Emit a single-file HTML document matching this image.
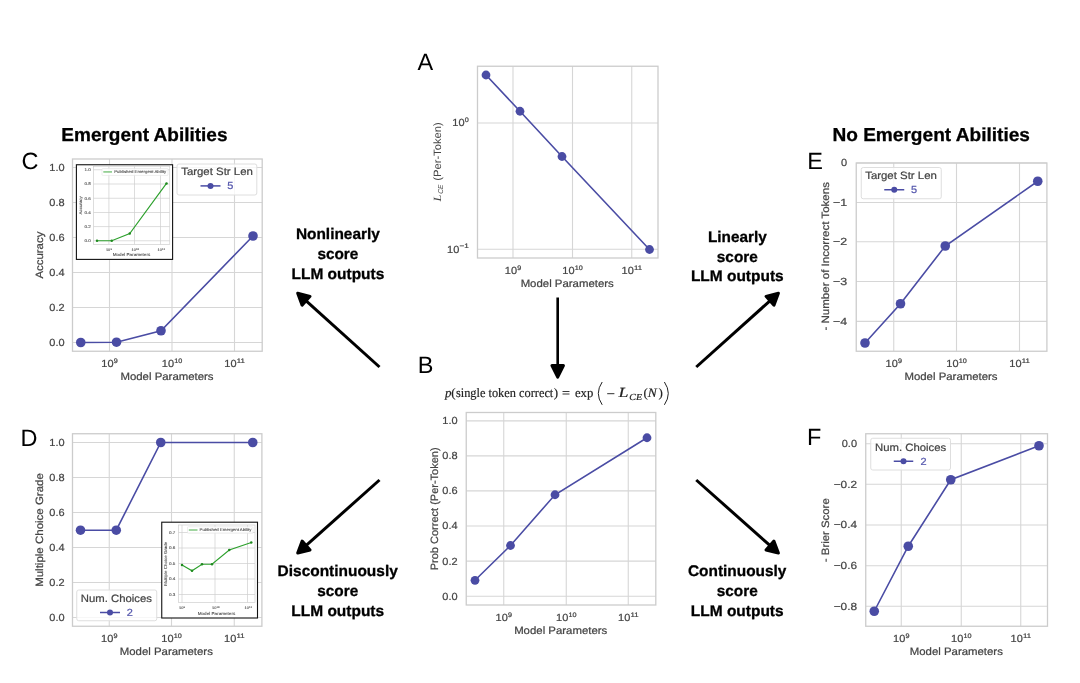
<!DOCTYPE html>
<html lang="en"><head><meta charset="utf-8"><title>Figure: emergent abilities vs metric choice</title>
<style>
html,body{margin:0;padding:0;background:#fff;}
body{width:1080px;height:683px;overflow:hidden;font-family:"Liberation Sans",sans-serif;}
svg{display:block;filter:blur(0.4px);}
</style></head><body>
<svg width="1080" height="683" viewBox="0 0 1080 683" text-rendering="geometricPrecision" font-family="'Liberation Sans', sans-serif" fill="#444444">
<rect width="1080" height="683" fill="#fff"/>
<text x="61.3" y="140.8" font-size="18.75" textLength="166.2" lengthAdjust="spacingAndGlyphs" fill="#000" font-weight="bold" stroke="#000" stroke-width="0.3">Emergent Abilities</text>
<text x="832.4" y="140.8" font-size="18.75" textLength="197.6" lengthAdjust="spacingAndGlyphs" fill="#000" font-weight="bold" stroke="#000" stroke-width="0.3">No Emergent Abilities</text>
<text x="417.5" y="70" font-size="23.5" fill="#000">A</text>
<text x="417.7" y="373.2" font-size="23.5" fill="#000">B</text>
<text x="21.5" y="169.2" font-size="23.5" fill="#000">C</text>
<text x="20.5" y="446.2" font-size="23.5" fill="#000">D</text>
<text x="807.2" y="169.2" font-size="23.5" fill="#000">E</text>
<text x="807" y="444.6" font-size="23.5" fill="#000">F</text>
<g>
<line x1="109.5" y1="159" x2="109.5" y2="351.25" stroke="#d6d6d6" stroke-width="1.1"/>
<line x1="172" y1="159" x2="172" y2="351.25" stroke="#d6d6d6" stroke-width="1.1"/>
<line x1="234.5" y1="159" x2="234.5" y2="351.25" stroke="#d6d6d6" stroke-width="1.1"/>
<line x1="72.5" y1="167.5" x2="262.2" y2="167.5" stroke="#d6d6d6" stroke-width="1.1"/>
<line x1="72.5" y1="202.5" x2="262.2" y2="202.5" stroke="#d6d6d6" stroke-width="1.1"/>
<line x1="72.5" y1="237.5" x2="262.2" y2="237.5" stroke="#d6d6d6" stroke-width="1.1"/>
<line x1="72.5" y1="272.5" x2="262.2" y2="272.5" stroke="#d6d6d6" stroke-width="1.1"/>
<line x1="72.5" y1="307.5" x2="262.2" y2="307.5" stroke="#d6d6d6" stroke-width="1.1"/>
<line x1="72.5" y1="342.5" x2="262.2" y2="342.5" stroke="#d6d6d6" stroke-width="1.1"/>
<polyline fill="none" stroke="#4a4ca4" stroke-width="1.6" points="80.75,342.5 116.5,342.2 161,330.75 253,236"/>
<circle cx="80.75" cy="342.5" r="4.8" fill="#4a4ca4"/>
<circle cx="116.5" cy="342.2" r="4.8" fill="#4a4ca4"/>
<circle cx="161" cy="330.75" r="4.8" fill="#4a4ca4"/>
<circle cx="253" cy="236" r="4.8" fill="#4a4ca4"/>
<rect x="72.5" y="159" width="189.7" height="192.25" fill="none" stroke="#cccccc" stroke-width="1.3"/>
<text x="101.38" y="367.4" font-size="10.37" textLength="12.22" lengthAdjust="spacingAndGlyphs" stroke="#444444" stroke-width="0.22">10</text>
<text x="113.79" y="363.08" font-size="6.53" textLength="4.03" lengthAdjust="spacingAndGlyphs" stroke="#444444" stroke-width="0.22">9</text>
<text x="161.86" y="367.4" font-size="10.37" textLength="12.22" lengthAdjust="spacingAndGlyphs" stroke="#444444" stroke-width="0.22">10</text>
<text x="174.28" y="363.08" font-size="6.53" textLength="8.06" lengthAdjust="spacingAndGlyphs" stroke="#444444" stroke-width="0.22">10</text>
<text x="224.36" y="367.4" font-size="10.37" textLength="12.22" lengthAdjust="spacingAndGlyphs" stroke="#444444" stroke-width="0.22">10</text>
<text x="236.78" y="363.08" font-size="6.53" textLength="8.06" lengthAdjust="spacingAndGlyphs" stroke="#444444" stroke-width="0.22">11</text>
<text x="167" y="380.4" font-size="10.61" text-anchor="middle" textLength="93.15" lengthAdjust="spacingAndGlyphs" stroke="#444444" stroke-width="0.22">Model Parameters</text>
<text x="64.6" y="170.9" font-size="10.37" text-anchor="end" textLength="15.27" lengthAdjust="spacingAndGlyphs" stroke="#444444" stroke-width="0.22">1.0</text>
<text x="64.6" y="205.9" font-size="10.37" text-anchor="end" textLength="15.27" lengthAdjust="spacingAndGlyphs" stroke="#444444" stroke-width="0.22">0.8</text>
<text x="64.6" y="240.9" font-size="10.37" text-anchor="end" textLength="15.27" lengthAdjust="spacingAndGlyphs" stroke="#444444" stroke-width="0.22">0.6</text>
<text x="64.6" y="275.9" font-size="10.37" text-anchor="end" textLength="15.27" lengthAdjust="spacingAndGlyphs" stroke="#444444" stroke-width="0.22">0.4</text>
<text x="64.6" y="310.9" font-size="10.37" text-anchor="end" textLength="15.27" lengthAdjust="spacingAndGlyphs" stroke="#444444" stroke-width="0.22">0.2</text>
<text x="64.6" y="345.9" font-size="10.37" text-anchor="end" textLength="15.27" lengthAdjust="spacingAndGlyphs" stroke="#444444" stroke-width="0.22">0.0</text>
<text x="42.8" y="255.1" font-size="10.61" text-anchor="middle" textLength="47.02" lengthAdjust="spacingAndGlyphs" transform="rotate(-90 42.8 255.1)" stroke="#444444" stroke-width="0.22">Accuracy</text>
</g>
<rect x="177" y="164" width="79.8" height="31" rx="2" fill="#ffffff" fill-opacity="0.8" stroke="#dedede" stroke-width="1"/>
<text x="217" y="175" font-size="10.61" text-anchor="middle" textLength="71.65" lengthAdjust="spacingAndGlyphs" stroke="#444444" stroke-width="0.22">Target Str Len</text>
<line x1="200.5" y1="185.9" x2="220.5" y2="185.9" stroke="#4a4ca4" stroke-width="1.5"/>
<circle cx="210.5" cy="185.9" r="3" fill="#4a4ca4"/>
<text x="227.3" y="189.3" font-size="10.37" textLength="6.11" lengthAdjust="spacingAndGlyphs" fill="#5557ad" stroke="#5557ad" stroke-width="0.22">5</text>
<g>
<rect x="76.4" y="164.75" width="96.2" height="94.65" fill="#fff" stroke="#111" stroke-width="1.1"/>
<line x1="108.9" y1="166.25" x2="108.9" y2="244.4" stroke="#cfcfcf" stroke-width="0.7"/>
<line x1="134.5" y1="166.25" x2="134.5" y2="244.4" stroke="#cfcfcf" stroke-width="0.7"/>
<line x1="160.5" y1="166.25" x2="160.5" y2="244.4" stroke="#cfcfcf" stroke-width="0.7"/>
<line x1="93.5" y1="169.75" x2="169.75" y2="169.75" stroke="#cfcfcf" stroke-width="0.7"/>
<line x1="93.5" y1="184" x2="169.75" y2="184" stroke="#cfcfcf" stroke-width="0.7"/>
<line x1="93.5" y1="198.25" x2="169.75" y2="198.25" stroke="#cfcfcf" stroke-width="0.7"/>
<line x1="93.5" y1="212.5" x2="169.75" y2="212.5" stroke="#cfcfcf" stroke-width="0.7"/>
<line x1="93.5" y1="226.6" x2="169.75" y2="226.6" stroke="#cfcfcf" stroke-width="0.7"/>
<line x1="93.5" y1="240.75" x2="169.75" y2="240.75" stroke="#cfcfcf" stroke-width="0.7"/>
<rect x="93.5" y="166.25" width="76.25" height="78.15" fill="none" stroke="#cfcfcf" stroke-width="0.7"/>
<polyline fill="none" stroke="#2ca02c" stroke-width="1.15" points="97,240.75 111.75,240.75 129.75,233.5 166.5,183.4"/>
<circle cx="97" cy="240.75" r="1.25" fill="#1f8a1f"/>
<circle cx="111.75" cy="240.75" r="1.25" fill="#1f8a1f"/>
<circle cx="129.75" cy="233.5" r="1.25" fill="#1f8a1f"/>
<circle cx="166.5" cy="183.4" r="1.25" fill="#1f8a1f"/>
<rect x="102" y="168.5" width="66" height="6.9" rx="0.8" fill="#fff" fill-opacity="0.85" stroke="#dcdcdc" stroke-width="0.5"/>
<line x1="103.3" y1="171.95" x2="112" y2="171.95" stroke="#2ca02c" stroke-width="0.9"/>
<text x="114.2" y="173.3" font-size="3.97" textLength="51.89" lengthAdjust="spacingAndGlyphs" fill="#444" stroke="#444" stroke-width="0.08">Published Emergent Ability</text>
<text x="90.8" y="171.1" font-size="4.12" text-anchor="end" textLength="6.36" lengthAdjust="spacingAndGlyphs" fill="#444" stroke="#444" stroke-width="0.08">1.0</text>
<text x="90.8" y="185.35" font-size="4.12" text-anchor="end" textLength="6.36" lengthAdjust="spacingAndGlyphs" fill="#444" stroke="#444" stroke-width="0.08">0.8</text>
<text x="90.8" y="199.6" font-size="4.12" text-anchor="end" textLength="6.36" lengthAdjust="spacingAndGlyphs" fill="#444" stroke="#444" stroke-width="0.08">0.6</text>
<text x="90.8" y="213.85" font-size="4.12" text-anchor="end" textLength="6.36" lengthAdjust="spacingAndGlyphs" fill="#444" stroke="#444" stroke-width="0.08">0.4</text>
<text x="90.8" y="227.95" font-size="4.12" text-anchor="end" textLength="6.36" lengthAdjust="spacingAndGlyphs" fill="#444" stroke="#444" stroke-width="0.08">0.2</text>
<text x="90.8" y="242.1" font-size="4.12" text-anchor="end" textLength="6.36" lengthAdjust="spacingAndGlyphs" fill="#444" stroke="#444" stroke-width="0.08">0.0</text>
<text x="105.94" y="251" font-size="3.5" textLength="4.33" lengthAdjust="spacingAndGlyphs" fill="#444" stroke="#444" stroke-width="0.08">10</text>
<text x="110.46" y="249.6" font-size="2.47" textLength="1.53" lengthAdjust="spacingAndGlyphs" fill="#444" stroke="#444" stroke-width="0.08">9</text>
<text x="131.54" y="251" font-size="3.5" textLength="4.33" lengthAdjust="spacingAndGlyphs" fill="#444" stroke="#444" stroke-width="0.08">10</text>
<text x="136.06" y="249.6" font-size="2.47" textLength="3.05" lengthAdjust="spacingAndGlyphs" fill="#444" stroke="#444" stroke-width="0.08">10</text>
<text x="157.54" y="251" font-size="3.5" textLength="4.33" lengthAdjust="spacingAndGlyphs" fill="#444" stroke="#444" stroke-width="0.08">10</text>
<text x="162.06" y="249.6" font-size="2.47" textLength="3.05" lengthAdjust="spacingAndGlyphs" fill="#444" stroke="#444" stroke-width="0.08">11</text>
<text x="131.5" y="256.2" font-size="4.27" text-anchor="middle" textLength="37.53" lengthAdjust="spacingAndGlyphs" fill="#444" stroke="#444" stroke-width="0.08">Model Parameters</text>
<text x="81.6" y="205.32" font-size="4.12" text-anchor="middle" textLength="18.26" lengthAdjust="spacingAndGlyphs" fill="#444" transform="rotate(-90 81.6 205.32)" stroke="#444" stroke-width="0.08">Accuracy</text>
</g>
<g>
<line x1="109.25" y1="433.75" x2="109.25" y2="626.25" stroke="#d6d6d6" stroke-width="1.1"/>
<line x1="171.5" y1="433.75" x2="171.5" y2="626.25" stroke="#d6d6d6" stroke-width="1.1"/>
<line x1="234.25" y1="433.75" x2="234.25" y2="626.25" stroke="#d6d6d6" stroke-width="1.1"/>
<line x1="72.5" y1="442.5" x2="261.9" y2="442.5" stroke="#d6d6d6" stroke-width="1.1"/>
<line x1="72.5" y1="477.5" x2="261.9" y2="477.5" stroke="#d6d6d6" stroke-width="1.1"/>
<line x1="72.5" y1="512.5" x2="261.9" y2="512.5" stroke="#d6d6d6" stroke-width="1.1"/>
<line x1="72.5" y1="547.5" x2="261.9" y2="547.5" stroke="#d6d6d6" stroke-width="1.1"/>
<line x1="72.5" y1="582.5" x2="261.9" y2="582.5" stroke="#d6d6d6" stroke-width="1.1"/>
<line x1="72.5" y1="617.5" x2="261.9" y2="617.5" stroke="#d6d6d6" stroke-width="1.1"/>
<polyline fill="none" stroke="#4a4ca4" stroke-width="1.6" points="80.5,530.2 116.25,530.2 160.75,442.5 252.75,442.5"/>
<circle cx="80.5" cy="530.2" r="4.8" fill="#4a4ca4"/>
<circle cx="116.25" cy="530.2" r="4.8" fill="#4a4ca4"/>
<circle cx="160.75" cy="442.5" r="4.8" fill="#4a4ca4"/>
<circle cx="252.75" cy="442.5" r="4.8" fill="#4a4ca4"/>
<rect x="72.5" y="433.75" width="189.4" height="192.5" fill="none" stroke="#cccccc" stroke-width="1.3"/>
<text x="101.13" y="642.4" font-size="10.37" textLength="12.22" lengthAdjust="spacingAndGlyphs" stroke="#444444" stroke-width="0.22">10</text>
<text x="113.54" y="638.08" font-size="6.53" textLength="4.03" lengthAdjust="spacingAndGlyphs" stroke="#444444" stroke-width="0.22">9</text>
<text x="161.36" y="642.4" font-size="10.37" textLength="12.22" lengthAdjust="spacingAndGlyphs" stroke="#444444" stroke-width="0.22">10</text>
<text x="173.78" y="638.08" font-size="6.53" textLength="8.06" lengthAdjust="spacingAndGlyphs" stroke="#444444" stroke-width="0.22">10</text>
<text x="224.11" y="642.4" font-size="10.37" textLength="12.22" lengthAdjust="spacingAndGlyphs" stroke="#444444" stroke-width="0.22">10</text>
<text x="236.53" y="638.08" font-size="6.53" textLength="8.06" lengthAdjust="spacingAndGlyphs" stroke="#444444" stroke-width="0.22">11</text>
<text x="166.3" y="655.4" font-size="10.61" text-anchor="middle" textLength="93.15" lengthAdjust="spacingAndGlyphs" stroke="#444444" stroke-width="0.22">Model Parameters</text>
<text x="64.6" y="445.9" font-size="10.37" text-anchor="end" textLength="15.27" lengthAdjust="spacingAndGlyphs" stroke="#444444" stroke-width="0.22">1.0</text>
<text x="64.6" y="480.9" font-size="10.37" text-anchor="end" textLength="15.27" lengthAdjust="spacingAndGlyphs" stroke="#444444" stroke-width="0.22">0.8</text>
<text x="64.6" y="515.9" font-size="10.37" text-anchor="end" textLength="15.27" lengthAdjust="spacingAndGlyphs" stroke="#444444" stroke-width="0.22">0.6</text>
<text x="64.6" y="550.9" font-size="10.37" text-anchor="end" textLength="15.27" lengthAdjust="spacingAndGlyphs" stroke="#444444" stroke-width="0.22">0.4</text>
<text x="64.6" y="585.9" font-size="10.37" text-anchor="end" textLength="15.27" lengthAdjust="spacingAndGlyphs" stroke="#444444" stroke-width="0.22">0.2</text>
<text x="64.6" y="620.9" font-size="10.37" text-anchor="end" textLength="15.27" lengthAdjust="spacingAndGlyphs" stroke="#444444" stroke-width="0.22">0.0</text>
<text x="42.8" y="530" font-size="10.61" text-anchor="middle" textLength="113.75" lengthAdjust="spacingAndGlyphs" transform="rotate(-90 42.8 530)" stroke="#444444" stroke-width="0.22">Multiple Choice Grade</text>
</g>
<rect x="76.75" y="590" width="80" height="30.75" rx="2" fill="#ffffff" fill-opacity="0.8" stroke="#dedede" stroke-width="1"/>
<text x="116.4" y="601.5" font-size="10.61" text-anchor="middle" textLength="71.06" lengthAdjust="spacingAndGlyphs" stroke="#444444" stroke-width="0.22">Num. Choices</text>
<line x1="100" y1="612.5" x2="120" y2="612.5" stroke="#4a4ca4" stroke-width="1.5"/>
<circle cx="110" cy="612.5" r="3" fill="#4a4ca4"/>
<text x="126.8" y="615.9" font-size="10.37" textLength="6.11" lengthAdjust="spacingAndGlyphs" fill="#5557ad" stroke="#5557ad" stroke-width="0.22">2</text>
<g>
<rect x="161.75" y="522.2" width="95.75" height="95.8" fill="#fff" stroke="#111" stroke-width="1.1"/>
<line x1="182" y1="525" x2="182" y2="602.5" stroke="#cfcfcf" stroke-width="0.7"/>
<line x1="215" y1="525" x2="215" y2="602.5" stroke="#cfcfcf" stroke-width="0.7"/>
<line x1="247.5" y1="525" x2="247.5" y2="602.5" stroke="#cfcfcf" stroke-width="0.7"/>
<line x1="178.5" y1="532.5" x2="255" y2="532.5" stroke="#cfcfcf" stroke-width="0.7"/>
<line x1="178.5" y1="548" x2="255" y2="548" stroke="#cfcfcf" stroke-width="0.7"/>
<line x1="178.5" y1="563.5" x2="255" y2="563.5" stroke="#cfcfcf" stroke-width="0.7"/>
<line x1="178.5" y1="579" x2="255" y2="579" stroke="#cfcfcf" stroke-width="0.7"/>
<line x1="178.5" y1="594.5" x2="255" y2="594.5" stroke="#cfcfcf" stroke-width="0.7"/>
<rect x="178.5" y="525" width="76.5" height="77.5" fill="none" stroke="#cfcfcf" stroke-width="0.7"/>
<polyline fill="none" stroke="#2ca02c" stroke-width="1.15" points="182,565 192,570.75 202,564.25 212,564.25 229.25,550 251.25,542.5"/>
<circle cx="182" cy="565" r="1.25" fill="#1f8a1f"/>
<circle cx="192" cy="570.75" r="1.25" fill="#1f8a1f"/>
<circle cx="202" cy="564.25" r="1.25" fill="#1f8a1f"/>
<circle cx="212" cy="564.25" r="1.25" fill="#1f8a1f"/>
<circle cx="229.25" cy="550" r="1.25" fill="#1f8a1f"/>
<circle cx="251.25" cy="542.5" r="1.25" fill="#1f8a1f"/>
<rect x="187.5" y="526.75" width="65.5" height="6.5" rx="0.8" fill="#fff" fill-opacity="0.85" stroke="#dcdcdc" stroke-width="0.5"/>
<line x1="188.8" y1="530" x2="197.5" y2="530" stroke="#2ca02c" stroke-width="0.9"/>
<text x="199.6" y="531.35" font-size="3.97" textLength="51.89" lengthAdjust="spacingAndGlyphs" fill="#444" stroke="#444" stroke-width="0.08">Published Emergent Ability</text>
<text x="175.3" y="533.85" font-size="4.12" text-anchor="end" textLength="6.36" lengthAdjust="spacingAndGlyphs" fill="#444" stroke="#444" stroke-width="0.08">0.7</text>
<text x="175.3" y="549.35" font-size="4.12" text-anchor="end" textLength="6.36" lengthAdjust="spacingAndGlyphs" fill="#444" stroke="#444" stroke-width="0.08">0.6</text>
<text x="175.3" y="564.85" font-size="4.12" text-anchor="end" textLength="6.36" lengthAdjust="spacingAndGlyphs" fill="#444" stroke="#444" stroke-width="0.08">0.5</text>
<text x="175.3" y="580.35" font-size="4.12" text-anchor="end" textLength="6.36" lengthAdjust="spacingAndGlyphs" fill="#444" stroke="#444" stroke-width="0.08">0.4</text>
<text x="175.3" y="595.85" font-size="4.12" text-anchor="end" textLength="6.36" lengthAdjust="spacingAndGlyphs" fill="#444" stroke="#444" stroke-width="0.08">0.3</text>
<text x="179.04" y="609" font-size="3.5" textLength="4.33" lengthAdjust="spacingAndGlyphs" fill="#444" stroke="#444" stroke-width="0.08">10</text>
<text x="183.56" y="607.6" font-size="2.47" textLength="1.53" lengthAdjust="spacingAndGlyphs" fill="#444" stroke="#444" stroke-width="0.08">9</text>
<text x="212.04" y="609" font-size="3.5" textLength="4.33" lengthAdjust="spacingAndGlyphs" fill="#444" stroke="#444" stroke-width="0.08">10</text>
<text x="216.56" y="607.6" font-size="2.47" textLength="3.05" lengthAdjust="spacingAndGlyphs" fill="#444" stroke="#444" stroke-width="0.08">10</text>
<text x="244.54" y="609" font-size="3.5" textLength="4.33" lengthAdjust="spacingAndGlyphs" fill="#444" stroke="#444" stroke-width="0.08">10</text>
<text x="249.06" y="607.6" font-size="2.47" textLength="3.05" lengthAdjust="spacingAndGlyphs" fill="#444" stroke="#444" stroke-width="0.08">11</text>
<text x="216.5" y="615" font-size="4.27" text-anchor="middle" textLength="37.53" lengthAdjust="spacingAndGlyphs" fill="#444" stroke="#444" stroke-width="0.08">Model Parameters</text>
<text x="166.9" y="563.75" font-size="4.12" text-anchor="middle" textLength="44.17" lengthAdjust="spacingAndGlyphs" fill="#444" transform="rotate(-90 166.9 563.75)" stroke="#444" stroke-width="0.08">Multiple Choice Grade</text>
</g>
<g>
<line x1="513" y1="66.25" x2="513" y2="258" stroke="#d6d6d6" stroke-width="1.1"/>
<line x1="572.5" y1="66.25" x2="572.5" y2="258" stroke="#d6d6d6" stroke-width="1.1"/>
<line x1="631.75" y1="66.25" x2="631.75" y2="258" stroke="#d6d6d6" stroke-width="1.1"/>
<line x1="477.5" y1="123" x2="658" y2="123" stroke="#d6d6d6" stroke-width="1.1"/>
<line x1="477.5" y1="249.25" x2="658" y2="249.25" stroke="#d6d6d6" stroke-width="1.1"/>
<polyline fill="none" stroke="#4a4ca4" stroke-width="1.6" points="486,75 520,111.25 562,156.5 649.5,249.5"/>
<circle cx="486" cy="75" r="4.4" fill="#4a4ca4"/>
<circle cx="520" cy="111.25" r="4.4" fill="#4a4ca4"/>
<circle cx="562" cy="156.5" r="4.4" fill="#4a4ca4"/>
<circle cx="649.5" cy="249.5" r="4.4" fill="#4a4ca4"/>
<rect x="477.5" y="66.25" width="180.5" height="191.75" fill="none" stroke="#cccccc" stroke-width="1.3"/>
<text x="504.88" y="274.2" font-size="10.37" textLength="12.22" lengthAdjust="spacingAndGlyphs" stroke="#444444" stroke-width="0.22">10</text>
<text x="517.29" y="269.88" font-size="6.53" textLength="4.03" lengthAdjust="spacingAndGlyphs" stroke="#444444" stroke-width="0.22">9</text>
<text x="562.36" y="274.2" font-size="10.37" textLength="12.22" lengthAdjust="spacingAndGlyphs" stroke="#444444" stroke-width="0.22">10</text>
<text x="574.78" y="269.88" font-size="6.53" textLength="8.06" lengthAdjust="spacingAndGlyphs" stroke="#444444" stroke-width="0.22">10</text>
<text x="621.61" y="274.2" font-size="10.37" textLength="12.22" lengthAdjust="spacingAndGlyphs" stroke="#444444" stroke-width="0.22">10</text>
<text x="634.03" y="269.88" font-size="6.53" textLength="8.06" lengthAdjust="spacingAndGlyphs" stroke="#444444" stroke-width="0.22">11</text>
<text x="567.2" y="287" font-size="10.61" text-anchor="middle" textLength="93.15" lengthAdjust="spacingAndGlyphs" stroke="#444444" stroke-width="0.22">Model Parameters</text>
<text x="452.35" y="126.4" font-size="10.37" textLength="12.22" lengthAdjust="spacingAndGlyphs" stroke="#444444" stroke-width="0.22">10</text>
<text x="464.77" y="122.08" font-size="6.53" textLength="4.03" lengthAdjust="spacingAndGlyphs" stroke="#444444" stroke-width="0.22">0</text>
<text x="447.04" y="252.65" font-size="10.37" textLength="12.22" lengthAdjust="spacingAndGlyphs" stroke="#444444" stroke-width="0.22">10</text>
<text x="459.46" y="248.33" font-size="6.53" textLength="9.34" lengthAdjust="spacingAndGlyphs" stroke="#444444" stroke-width="0.22">−1</text>
</g>
<g transform="rotate(-90 440.6 162.1)">
<text x="401.2" y="162.3" font-size="11" textLength="6.9" lengthAdjust="spacingAndGlyphs" font-family="'Liberation Serif', serif" font-style="italic">L</text>
<text x="409" y="164.3" font-size="7.2" textLength="9.2" lengthAdjust="spacingAndGlyphs" font-style="italic">CE</text>
<text x="421.9" y="162.3" font-size="10.61" textLength="58.6" lengthAdjust="spacingAndGlyphs">(Per-Token)</text>
</g>
<g>
<line x1="503.75" y1="412.5" x2="503.75" y2="605" stroke="#d6d6d6" stroke-width="1.1"/>
<line x1="566.25" y1="412.5" x2="566.25" y2="605" stroke="#d6d6d6" stroke-width="1.1"/>
<line x1="628.25" y1="412.5" x2="628.25" y2="605" stroke="#d6d6d6" stroke-width="1.1"/>
<line x1="466.25" y1="420.9" x2="655.8" y2="420.9" stroke="#d6d6d6" stroke-width="1.1"/>
<line x1="466.25" y1="455.9" x2="655.8" y2="455.9" stroke="#d6d6d6" stroke-width="1.1"/>
<line x1="466.25" y1="490.9" x2="655.8" y2="490.9" stroke="#d6d6d6" stroke-width="1.1"/>
<line x1="466.25" y1="526" x2="655.8" y2="526" stroke="#d6d6d6" stroke-width="1.1"/>
<line x1="466.25" y1="561.1" x2="655.8" y2="561.1" stroke="#d6d6d6" stroke-width="1.1"/>
<line x1="466.25" y1="596.2" x2="655.8" y2="596.2" stroke="#d6d6d6" stroke-width="1.1"/>
<polyline fill="none" stroke="#4a4ca4" stroke-width="1.6" points="475,580.3 510.5,545.5 555,494.75 647,437.75"/>
<circle cx="475" cy="580.3" r="4.4" fill="#4a4ca4"/>
<circle cx="510.5" cy="545.5" r="4.4" fill="#4a4ca4"/>
<circle cx="555" cy="494.75" r="4.4" fill="#4a4ca4"/>
<circle cx="647" cy="437.75" r="4.4" fill="#4a4ca4"/>
<rect x="466.25" y="412.5" width="189.55" height="192.5" fill="none" stroke="#cccccc" stroke-width="1.3"/>
<text x="495.63" y="621" font-size="10.37" textLength="12.22" lengthAdjust="spacingAndGlyphs" stroke="#444444" stroke-width="0.22">10</text>
<text x="508.04" y="616.68" font-size="6.53" textLength="4.03" lengthAdjust="spacingAndGlyphs" stroke="#444444" stroke-width="0.22">9</text>
<text x="556.11" y="621" font-size="10.37" textLength="12.22" lengthAdjust="spacingAndGlyphs" stroke="#444444" stroke-width="0.22">10</text>
<text x="568.53" y="616.68" font-size="6.53" textLength="8.06" lengthAdjust="spacingAndGlyphs" stroke="#444444" stroke-width="0.22">10</text>
<text x="618.11" y="621" font-size="10.37" textLength="12.22" lengthAdjust="spacingAndGlyphs" stroke="#444444" stroke-width="0.22">10</text>
<text x="630.53" y="616.68" font-size="6.53" textLength="8.06" lengthAdjust="spacingAndGlyphs" stroke="#444444" stroke-width="0.22">11</text>
<text x="560.7" y="634" font-size="10.61" text-anchor="middle" textLength="93.15" lengthAdjust="spacingAndGlyphs" stroke="#444444" stroke-width="0.22">Model Parameters</text>
<text x="457.6" y="424.3" font-size="10.37" text-anchor="end" textLength="15.27" lengthAdjust="spacingAndGlyphs" stroke="#444444" stroke-width="0.22">1.0</text>
<text x="457.6" y="459.3" font-size="10.37" text-anchor="end" textLength="15.27" lengthAdjust="spacingAndGlyphs" stroke="#444444" stroke-width="0.22">0.8</text>
<text x="457.6" y="494.3" font-size="10.37" text-anchor="end" textLength="15.27" lengthAdjust="spacingAndGlyphs" stroke="#444444" stroke-width="0.22">0.6</text>
<text x="457.6" y="529.4" font-size="10.37" text-anchor="end" textLength="15.27" lengthAdjust="spacingAndGlyphs" stroke="#444444" stroke-width="0.22">0.4</text>
<text x="457.6" y="564.5" font-size="10.37" text-anchor="end" textLength="15.27" lengthAdjust="spacingAndGlyphs" stroke="#444444" stroke-width="0.22">0.2</text>
<text x="457.6" y="599.6" font-size="10.37" text-anchor="end" textLength="15.27" lengthAdjust="spacingAndGlyphs" stroke="#444444" stroke-width="0.22">0.0</text>
<text x="437.6" y="508.8" font-size="10.61" text-anchor="middle" textLength="122.89" lengthAdjust="spacingAndGlyphs" transform="rotate(-90 437.6 508.8)" stroke="#444444" stroke-width="0.22">Prob Correct (Per-Token)</text>
</g>
<g>
<line x1="893.75" y1="163" x2="893.75" y2="351.25" stroke="#d6d6d6" stroke-width="1.1"/>
<line x1="956.5" y1="163" x2="956.5" y2="351.25" stroke="#d6d6d6" stroke-width="1.1"/>
<line x1="1019.5" y1="163" x2="1019.5" y2="351.25" stroke="#d6d6d6" stroke-width="1.1"/>
<line x1="856.25" y1="163" x2="1046.9" y2="163" stroke="#d6d6d6" stroke-width="1.1"/>
<line x1="856.25" y1="202.5" x2="1046.9" y2="202.5" stroke="#d6d6d6" stroke-width="1.1"/>
<line x1="856.25" y1="241.7" x2="1046.9" y2="241.7" stroke="#d6d6d6" stroke-width="1.1"/>
<line x1="856.25" y1="281.5" x2="1046.9" y2="281.5" stroke="#d6d6d6" stroke-width="1.1"/>
<line x1="856.25" y1="321.4" x2="1046.9" y2="321.4" stroke="#d6d6d6" stroke-width="1.1"/>
<polyline fill="none" stroke="#4a4ca4" stroke-width="1.6" points="865,343 900.5,303.75 945.25,246 1037.75,181.25"/>
<circle cx="865" cy="343" r="4.8" fill="#4a4ca4"/>
<circle cx="900.5" cy="303.75" r="4.8" fill="#4a4ca4"/>
<circle cx="945.25" cy="246" r="4.8" fill="#4a4ca4"/>
<circle cx="1037.75" cy="181.25" r="4.8" fill="#4a4ca4"/>
<rect x="856.25" y="163" width="190.65" height="188.25" fill="none" stroke="#cccccc" stroke-width="1.3"/>
<text x="885.63" y="367.4" font-size="10.37" textLength="12.22" lengthAdjust="spacingAndGlyphs" stroke="#444444" stroke-width="0.22">10</text>
<text x="898.04" y="363.08" font-size="6.53" textLength="4.03" lengthAdjust="spacingAndGlyphs" stroke="#444444" stroke-width="0.22">9</text>
<text x="946.36" y="367.4" font-size="10.37" textLength="12.22" lengthAdjust="spacingAndGlyphs" stroke="#444444" stroke-width="0.22">10</text>
<text x="958.78" y="363.08" font-size="6.53" textLength="8.06" lengthAdjust="spacingAndGlyphs" stroke="#444444" stroke-width="0.22">10</text>
<text x="1009.36" y="367.4" font-size="10.37" textLength="12.22" lengthAdjust="spacingAndGlyphs" stroke="#444444" stroke-width="0.22">10</text>
<text x="1021.78" y="363.08" font-size="6.53" textLength="8.06" lengthAdjust="spacingAndGlyphs" stroke="#444444" stroke-width="0.22">11</text>
<text x="951" y="380.4" font-size="10.61" text-anchor="middle" textLength="93.15" lengthAdjust="spacingAndGlyphs" stroke="#444444" stroke-width="0.22">Model Parameters</text>
<text x="847.2" y="166.4" font-size="10.37" text-anchor="end" textLength="6.11" lengthAdjust="spacingAndGlyphs" stroke="#444444" stroke-width="0.22">0</text>
<text x="847.2" y="205.9" font-size="10.37" text-anchor="end" textLength="14.15" lengthAdjust="spacingAndGlyphs" stroke="#444444" stroke-width="0.22">−1</text>
<text x="847.2" y="245.1" font-size="10.37" text-anchor="end" textLength="14.15" lengthAdjust="spacingAndGlyphs" stroke="#444444" stroke-width="0.22">−2</text>
<text x="847.2" y="284.9" font-size="10.37" text-anchor="end" textLength="14.15" lengthAdjust="spacingAndGlyphs" stroke="#444444" stroke-width="0.22">−3</text>
<text x="847.2" y="324.8" font-size="10.37" text-anchor="end" textLength="14.15" lengthAdjust="spacingAndGlyphs" stroke="#444444" stroke-width="0.22">−4</text>
<text x="828.7" y="256.3" font-size="10.61" text-anchor="middle" textLength="148.42" lengthAdjust="spacingAndGlyphs" transform="rotate(-90 828.7 256.3)" stroke="#444444" stroke-width="0.22">- Number of Incorrect Tokens</text>
</g>
<rect x="861.25" y="167.5" width="80" height="31.25" rx="2" fill="#ffffff" fill-opacity="0.8" stroke="#dedede" stroke-width="1"/>
<text x="901" y="179.2" font-size="10.61" text-anchor="middle" textLength="71.65" lengthAdjust="spacingAndGlyphs" stroke="#444444" stroke-width="0.22">Target Str Len</text>
<line x1="884.25" y1="189.75" x2="904.25" y2="189.75" stroke="#4a4ca4" stroke-width="1.5"/>
<circle cx="894.25" cy="189.75" r="3" fill="#4a4ca4"/>
<text x="911" y="193.15" font-size="10.37" textLength="6.11" lengthAdjust="spacingAndGlyphs" fill="#5557ad" stroke="#5557ad" stroke-width="0.22">5</text>
<g>
<line x1="901.25" y1="433.75" x2="901.25" y2="626.25" stroke="#d6d6d6" stroke-width="1.1"/>
<line x1="961.25" y1="433.75" x2="961.25" y2="626.25" stroke="#d6d6d6" stroke-width="1.1"/>
<line x1="1020.75" y1="433.75" x2="1020.75" y2="626.25" stroke="#d6d6d6" stroke-width="1.1"/>
<line x1="865.75" y1="443.75" x2="1047.5" y2="443.75" stroke="#d6d6d6" stroke-width="1.1"/>
<line x1="865.75" y1="484.3" x2="1047.5" y2="484.3" stroke="#d6d6d6" stroke-width="1.1"/>
<line x1="865.75" y1="525" x2="1047.5" y2="525" stroke="#d6d6d6" stroke-width="1.1"/>
<line x1="865.75" y1="565.7" x2="1047.5" y2="565.7" stroke="#d6d6d6" stroke-width="1.1"/>
<line x1="865.75" y1="606.3" x2="1047.5" y2="606.3" stroke="#d6d6d6" stroke-width="1.1"/>
<polyline fill="none" stroke="#4a4ca4" stroke-width="1.6" points="874.25,611.25 908.25,546.25 950.75,479.75 1039,445.75"/>
<circle cx="874.25" cy="611.25" r="4.8" fill="#4a4ca4"/>
<circle cx="908.25" cy="546.25" r="4.8" fill="#4a4ca4"/>
<circle cx="950.75" cy="479.75" r="4.8" fill="#4a4ca4"/>
<circle cx="1039" cy="445.75" r="4.8" fill="#4a4ca4"/>
<rect x="865.75" y="433.75" width="181.75" height="192.5" fill="none" stroke="#cccccc" stroke-width="1.3"/>
<text x="893.13" y="642.2" font-size="10.37" textLength="12.22" lengthAdjust="spacingAndGlyphs" stroke="#444444" stroke-width="0.22">10</text>
<text x="905.54" y="637.88" font-size="6.53" textLength="4.03" lengthAdjust="spacingAndGlyphs" stroke="#444444" stroke-width="0.22">9</text>
<text x="951.11" y="642.2" font-size="10.37" textLength="12.22" lengthAdjust="spacingAndGlyphs" stroke="#444444" stroke-width="0.22">10</text>
<text x="963.53" y="637.88" font-size="6.53" textLength="8.06" lengthAdjust="spacingAndGlyphs" stroke="#444444" stroke-width="0.22">10</text>
<text x="1010.61" y="642.2" font-size="10.37" textLength="12.22" lengthAdjust="spacingAndGlyphs" stroke="#444444" stroke-width="0.22">10</text>
<text x="1023.03" y="637.88" font-size="6.53" textLength="8.06" lengthAdjust="spacingAndGlyphs" stroke="#444444" stroke-width="0.22">11</text>
<text x="956.3" y="655.4" font-size="10.61" text-anchor="middle" textLength="93.15" lengthAdjust="spacingAndGlyphs" stroke="#444444" stroke-width="0.22">Model Parameters</text>
<text x="857" y="447.15" font-size="10.37" text-anchor="end" textLength="15.27" lengthAdjust="spacingAndGlyphs" stroke="#444444" stroke-width="0.22">0.0</text>
<text x="857" y="487.7" font-size="10.37" text-anchor="end" textLength="23.31" lengthAdjust="spacingAndGlyphs" stroke="#444444" stroke-width="0.22">−0.2</text>
<text x="857" y="528.4" font-size="10.37" text-anchor="end" textLength="23.31" lengthAdjust="spacingAndGlyphs" stroke="#444444" stroke-width="0.22">−0.4</text>
<text x="857" y="569.1" font-size="10.37" text-anchor="end" textLength="23.31" lengthAdjust="spacingAndGlyphs" stroke="#444444" stroke-width="0.22">−0.6</text>
<text x="857" y="609.7" font-size="10.37" text-anchor="end" textLength="23.31" lengthAdjust="spacingAndGlyphs" stroke="#444444" stroke-width="0.22">−0.8</text>
<text x="829.2" y="530.2" font-size="10.61" text-anchor="middle" textLength="63.85" lengthAdjust="spacingAndGlyphs" transform="rotate(-90 829.2 530.2)" stroke="#444444" stroke-width="0.22">- Brier Score</text>
</g>
<rect x="870.75" y="438.25" width="79.75" height="31.75" rx="2" fill="#ffffff" fill-opacity="0.8" stroke="#dedede" stroke-width="1"/>
<text x="910.6" y="451" font-size="10.61" text-anchor="middle" textLength="71.06" lengthAdjust="spacingAndGlyphs" stroke="#444444" stroke-width="0.22">Num. Choices</text>
<line x1="893.75" y1="461.25" x2="913.25" y2="461.25" stroke="#4a4ca4" stroke-width="1.5"/>
<circle cx="903.5" cy="461.25" r="3" fill="#4a4ca4"/>
<text x="920.5" y="464.65" font-size="10.37" textLength="6.11" lengthAdjust="spacingAndGlyphs" fill="#5557ad" stroke="#5557ad" stroke-width="0.22">2</text>
<line x1="557.7" y1="297.5" x2="557.7" y2="365.1" stroke="#000" stroke-width="2.65"/>
<polygon points="557.7,377.2 551.95,365.6 563.45,365.6" fill="#000" stroke="#000" stroke-width="3" stroke-linejoin="round"/>
<line x1="379.5" y1="367" x2="306.44" y2="301.11" stroke="#000" stroke-width="3"/>
<polygon points="297.68,293.21 310.06,296.36 302.09,305.19" fill="#000" stroke="#000" stroke-width="3" stroke-linejoin="round"/>
<line x1="379.5" y1="480" x2="306.5" y2="545.15" stroke="#000" stroke-width="3"/>
<polygon points="297.69,553 302.16,541.04 310.08,549.92" fill="#000" stroke="#000" stroke-width="3" stroke-linejoin="round"/>
<line x1="696.25" y1="367" x2="769.64" y2="301.09" stroke="#000" stroke-width="3"/>
<polygon points="778.41,293.2 773.98,305.18 766.03,296.33" fill="#000" stroke="#000" stroke-width="3" stroke-linejoin="round"/>
<line x1="696.25" y1="480" x2="769.59" y2="545.17" stroke="#000" stroke-width="3"/>
<polygon points="778.41,553.01 766.01,549.95 773.91,541.05" fill="#000" stroke="#000" stroke-width="3" stroke-linejoin="round"/>
<text x="337.9" y="239.4" font-size="15.4" text-anchor="middle" textLength="84" lengthAdjust="spacingAndGlyphs" fill="#000" font-weight="bold" stroke="#000" stroke-width="0.3">Nonlinearly</text>
<text x="337.9" y="258.9" font-size="15.4" text-anchor="middle" textLength="41" lengthAdjust="spacingAndGlyphs" fill="#000" font-weight="bold" stroke="#000" stroke-width="0.3">score</text>
<text x="337.9" y="278.6" font-size="15.4" text-anchor="middle" textLength="92.8" lengthAdjust="spacingAndGlyphs" fill="#000" font-weight="bold" stroke="#000" stroke-width="0.3">LLM outputs</text>
<text x="337.7" y="576.3" font-size="15.4" text-anchor="middle" textLength="120.2" lengthAdjust="spacingAndGlyphs" fill="#000" font-weight="bold" stroke="#000" stroke-width="0.3">Discontinuously</text>
<text x="337.7" y="595.9" font-size="15.4" text-anchor="middle" textLength="41" lengthAdjust="spacingAndGlyphs" fill="#000" font-weight="bold" stroke="#000" stroke-width="0.3">score</text>
<text x="337.7" y="615.5" font-size="15.4" text-anchor="middle" textLength="92.8" lengthAdjust="spacingAndGlyphs" fill="#000" font-weight="bold" stroke="#000" stroke-width="0.3">LLM outputs</text>
<text x="737.3" y="242" font-size="15.4" text-anchor="middle" textLength="58.8" lengthAdjust="spacingAndGlyphs" fill="#000" font-weight="bold" stroke="#000" stroke-width="0.3">Linearly</text>
<text x="737.3" y="261.6" font-size="15.4" text-anchor="middle" textLength="41" lengthAdjust="spacingAndGlyphs" fill="#000" font-weight="bold" stroke="#000" stroke-width="0.3">score</text>
<text x="737.3" y="281.2" font-size="15.4" text-anchor="middle" textLength="92.8" lengthAdjust="spacingAndGlyphs" fill="#000" font-weight="bold" stroke="#000" stroke-width="0.3">LLM outputs</text>
<text x="737.2" y="576.3" font-size="15.4" text-anchor="middle" textLength="98.4" lengthAdjust="spacingAndGlyphs" fill="#000" font-weight="bold" stroke="#000" stroke-width="0.3">Continuously</text>
<text x="737.2" y="595.9" font-size="15.4" text-anchor="middle" textLength="41" lengthAdjust="spacingAndGlyphs" fill="#000" font-weight="bold" stroke="#000" stroke-width="0.3">score</text>
<text x="737.2" y="615.5" font-size="15.4" text-anchor="middle" textLength="92.8" lengthAdjust="spacingAndGlyphs" fill="#000" font-weight="bold" stroke="#000" stroke-width="0.3">LLM outputs</text>
<g font-family="'Liberation Serif', serif" fill="#222" stroke="#222" stroke-width="0.18">
<text x="444.9" y="397.3" font-size="13" font-style="italic">p</text>
<text x="451.2" y="397.3" font-size="13">(</text>
<text x="455.9" y="397.3" font-size="13" textLength="97.4" lengthAdjust="spacingAndGlyphs">single token correct</text>
<text x="553.8" y="397.3" font-size="13">)</text>
<text x="562" y="397.3" font-size="13" textLength="8" lengthAdjust="spacingAndGlyphs">=</text>
<text x="575" y="397.3" font-size="13" textLength="18.3" lengthAdjust="spacingAndGlyphs">exp</text>
<path d="M602.2 382 Q594.4 393.4 602.2 404.8" fill="none" stroke="#222" stroke-width="1"/>
<line x1="607.2" y1="393.7" x2="614.4" y2="393.7" stroke="#222" stroke-width="0.95"/>
<text x="618.6" y="397.3" font-size="14" textLength="10" lengthAdjust="spacingAndGlyphs" font-style="italic">L</text>
<text x="629.3" y="399.9" font-size="9.2" textLength="12.8" lengthAdjust="spacingAndGlyphs" font-style="italic">CE</text>
<text x="643.6" y="397.3" font-size="13">(</text>
<text x="647.8" y="397.3" font-size="13" textLength="9" lengthAdjust="spacingAndGlyphs" font-style="italic">N</text>
<text x="658.4" y="397.3" font-size="13">)</text>
<path d="M664.4 382 Q672.2 393.4 664.4 404.8" fill="none" stroke="#222" stroke-width="1"/>
</g>
</svg>
</body></html>
